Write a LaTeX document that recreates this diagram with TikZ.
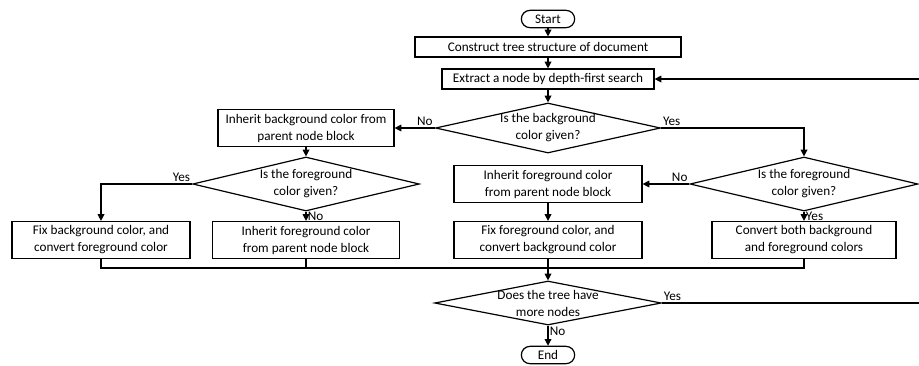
\documentclass[tikz,border=0pt]{standalone}
\usepackage{fontspec}
\setmainfont{Carlito}
\usetikzlibrary{shapes.geometric,arrows.meta}

\begin{document}
\begin{tikzpicture}[x=0.75pt, y=-0.75pt, line width=0.9pt,
  every node/.style={font=\fontsize{9.9}{12.75}\selectfont},
  arr/.style={-{Triangle[length=5pt,width=5pt]}},
  term/.style={draw, rounded corners=6.5pt, minimum width=40pt, minimum height=13pt, inner sep=1pt},
  proc/.style={draw, align=center, minimum height=15pt, inner sep=1pt},
  proc2/.style={proc, minimum height=27.75pt},
  decide/.style={draw, diamond, align=center, inner xsep=-30pt, inner ysep=-15pt},
  lbl/.style={inner sep=1pt}]
  \useasboundingbox (0,0) rectangle (919,365);
  % main column
  \node[term] (start) at (548,19) {Start};
  \node[proc, minimum width=199.5pt] (build) at (548,47) {Construct tree structure of document};
  \node[proc, minimum width=159pt] (extract) at (548,79) {Extract a node by depth-first search};
  \node[decide, minimum width=168.75pt, minimum height=37.5pt] (qbg) at (548,128) {Is the background\\color given?};
  % background not given
  \node[proc2, minimum width=132pt] (inhbg) at (306,128) {Inherit background color from\\parent node block};
  \node[decide, minimum width=170pt, minimum height=40.5pt] (qfgl) at (306,184) {Is the foreground\\color given?};
  \node[proc2, minimum width=133.5pt] (fixbg) at (101,240) {Fix background color, and\\convert foreground color};
  \node[proc2, minimum width=140pt] (inhfgl) at (306,240) {Inherit foreground color\\from parent node block};
  % background given
  \node[decide, minimum width=171pt, minimum height=40.5pt] (qfgr) at (804,184) {Is the foreground\\color given?};
  \node[proc2, minimum width=141pt] (inhfgr) at (548,184) {Inherit foreground color\\from parent node block};
  \node[proc2, minimum width=141pt] (fixfg) at (548,240) {Fix foreground color, and\\convert background color};
  \node[proc2, minimum width=138pt] (convert) at (804,240) {Convert both background\\and foreground colors};
  % loop test
  \coordinate (join) at (548,268);
  \node[decide, minimum width=170pt, minimum height=33pt] (qmore) at (548,303) {Does the tree have\\more nodes};
  \node[term] (end) at (548,355) {End};
  \coordinate (loop) at (921,303);

  \draw[arr] (start) -- (build);
  \draw[arr] (build) -- (extract);
  \draw[arr] (extract) -- (qbg);
  \draw[arr] (qbg.west) -- node[lbl, above, pos=0.25] {No} (inhbg);
  \draw[arr] (qbg.east) node[lbl, above right] {Yes} -| (qfgr.north);
  \draw[arr] (inhbg) -- (qfgl);
  \draw[arr] (qfgl.west) node[lbl, above left] {Yes} -| (fixbg.north);
  \draw[arr] (qfgl.south) -- node[lbl, right] {No} (inhfgl);
  \draw[arr] (qfgr.west) node[lbl, above left] {No} -- (inhfgr);
  \draw[arr] (qfgr.south) -- node[lbl, right] {Yes} (convert);
  \draw[arr] (inhfgr) -- (fixfg);
  \draw (fixbg.south) |- (join);
  \draw (inhfgl.south) |- (join);
  \draw (fixfg.south) -- (join);
  \draw (convert.south) |- (join);
  \draw[arr] (join) -- (qmore);
  \draw[arr] (qmore) -- node[lbl, right, pos=0.3] {No} (end);
  \draw[arr] (qmore.east) node[lbl, above right] {Yes} -- (loop) |- (extract.east);
\end{tikzpicture}
\end{document}
